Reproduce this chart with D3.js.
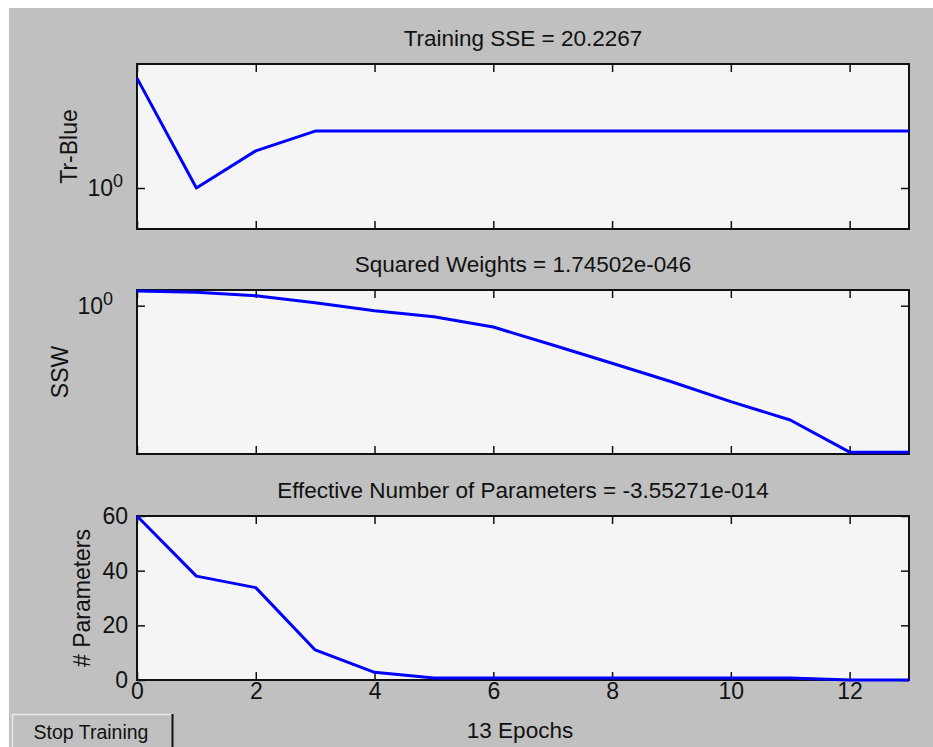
<!DOCTYPE html>
<html>
<head>
<meta charset="utf-8">
<script src="https://cdn.jsdelivr.net/npm/d3@7"></script>
<style>
  body { margin: 0; background: #fff; }
  svg { display: block; font-family: "Liberation Sans", Arial, sans-serif; }
</style>
</head>
<body>
<svg width="933" height="747"></svg>
<script>
// epochs and the three training curves
const epochs = [0, 1, 2, 3, 4, 5, 6, 7, 8, 9, 10, 11, 12, 13];
const trBlue = [7.0, 1.0, 1.93, 2.74, 2.74, 2.74, 2.74, 2.74, 2.74, 2.74, 2.74, 2.74, 2.74, 2.74];
const ssw = [1.229, 1.207, 1.151, 1.043, 0.932, 0.857, 0.741, 0.576, 0.446, 0.344, 0.260, 0.201, 0.128, 0.128];
const numParams = [60, 38.0, 33.8, 11.0, 2.8, 0.7, 0.7, 0.7, 0.7, 0.7, 0.7, 0.7, 0, 0];

const xTicks = [0, 2, 4, 6, 8, 10, 12];
const paramTicks = [0, 20, 40, 60];
const titles = ["Training SSE = 20.2267", "Squared Weights = 1.74502e-046", "Effective Number of Parameters = -3.55271e-014"];
const yLabels = ["Tr-Blue", "SSW", "# Parameters"];
const xLabel = "13 Epochs";
const buttonText = "Stop Training";

const svg = d3.select("svg");
const left = 137, right = 909;
const tick = 8;

// window background
svg.append("rect")
    .attr("x", 9).attr("y", 8)
    .attr("width", 933 - 9).attr("height", 747 - 8)
    .attr("fill", "#c0c0c0");

const x = d3.scaleLinear().domain([0, 13]).range([left, right]);

const panels = [
    { top: 64, bottom: 229, values: trBlue, log: true, domain: [0.484, 8.99], pad: 14, labelX: 77 },
    { top: 290, bottom: 454, values: ssw, log: true, domain: [0.1247, 1.2465], pad: 24, labelX: 68 },
    { top: 516, bottom: 680, values: numParams, log: false, domain: [0, 60], pad: 9, labelX: 90 }
];

panels.forEach((p, i) => {
    const y = (p.log ? d3.scaleLog() : d3.scaleLinear())
        .domain(p.domain).range([p.bottom, p.top]);

    const g = svg.append("g");

    g.append("rect")
        .attr("x", left).attr("y", p.top)
        .attr("width", right - left).attr("height", p.bottom - p.top)
        .attr("fill", "#f5f5f5");

    // x ticks, inward, top and bottom
    const last = i === panels.length - 1;
    g.append("g")
        .attr("transform", `translate(0,${p.bottom})`)
        .call(d3.axisBottom(x).tickValues(xTicks).tickSizeInner(-tick).tickSizeOuter(0)
            .tickPadding(3).tickFormat(last ? d3.format("d") : () => ""));
    g.append("g")
        .attr("transform", `translate(0,${p.top})`)
        .call(d3.axisTop(x).tickValues(xTicks).tickSizeInner(-tick).tickSizeOuter(0).tickFormat(() => ""));

    // y ticks, inward, left and right
    const yVals = p.log ? [1] : paramTicks;
    const yl = g.append("g")
        .attr("transform", `translate(${left},0)`)
        .call(d3.axisLeft(y).tickValues(yVals).tickSizeInner(-tick).tickSizeOuter(0)
            .tickPadding(p.pad).tickFormat(p.log ? () => "" : d3.format("d")));
    g.append("g")
        .attr("transform", `translate(${right},0)`)
        .call(d3.axisRight(y).tickValues(yVals).tickSizeInner(-tick).tickSizeOuter(0).tickFormat(() => ""));

    if (p.log) {
        yl.selectAll(".tick text").each(function () {
            const t = d3.select(this);
            t.append("tspan").text("10");
            t.append("tspan").attr("dy", -9).attr("font-size", 18).text("0");
        });
    }

    g.selectAll(".domain").remove();
    g.selectAll(".tick line").attr("stroke", "#111").attr("stroke-width", 1.5);
    g.selectAll(".tick text").attr("fill", "#111").attr("font-size", 23)
        .attr("font-family", "Liberation Sans, Arial, sans-serif");

    // frame
    g.append("rect")
        .attr("x", left).attr("y", p.top)
        .attr("width", right - left).attr("height", p.bottom - p.top)
        .attr("fill", "none").attr("stroke", "#111").attr("stroke-width", 2);

    const line = d3.line()
        .x((d, j) => x(epochs[j]))
        .y(d => y(d));

    g.append("path")
        .attr("d", line(p.values))
        .attr("fill", "none")
        .attr("stroke", "#0000ff")
        .attr("stroke-width", 3)
        .attr("stroke-linejoin", "round");

    // title
    g.append("text")
        .attr("x", (left + right) / 2).attr("y", p.top - 18)
        .attr("text-anchor", "middle")
        .attr("font-size", 22.5).attr("fill", "#111")
        .text(titles[i]);

    // y label
    g.append("text")
        .attr("transform", `translate(${p.labelX},${(p.top + p.bottom) / 2}) rotate(-90)`)
        .attr("text-anchor", "middle")
        .attr("font-size", 23).attr("fill", "#111")
        .text(yLabels[i]);
});

svg.append("text")
    .attr("x", 520).attr("y", 738)
    .attr("text-anchor", "middle")
    .attr("font-size", 22.5).attr("fill", "#111")
    .text(xLabel);

// button
const btn = svg.append("g");
btn.append("rect")
    .attr("x", 12).attr("y", 714).attr("width", 161).attr("height", 40)
    .attr("fill", "#c0c0c0");
btn.append("path")
    .attr("d", "M12.5,754 V714.5 H172")
    .attr("fill", "none").attr("stroke", "#e8e8e8").attr("stroke-width", 1.5);
btn.append("path")
    .attr("d", "M172.5,714 V754")
    .attr("fill", "none").attr("stroke", "#111").attr("stroke-width", 2);
btn.append("text")
    .attr("x", 91).attr("y", 739)
    .attr("text-anchor", "middle")
    .attr("font-size", 19.5).attr("fill", "#111")
    .text(buttonText);
</script>
</body>
</html>
